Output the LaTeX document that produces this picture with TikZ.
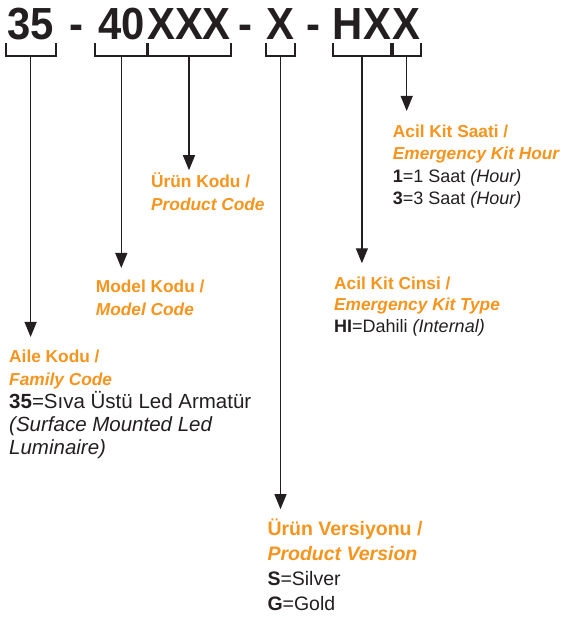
\documentclass[tikz,border=0pt]{standalone}
\usepackage{fontspec}
\setmainfont{Liberation Sans}
\newfontfamily\titlefont[FakeStretch=0.93]{Liberation Sans}
\usetikzlibrary{arrows.meta,calc}
\definecolor{ink}{HTML}{231F20}
\definecolor{orng}{HTML}{F7941D}
\newcommand\orhead[1]{{\color{orng}\bfseries #1}}
\newcommand\orital[1]{{\color{orng}\bfseries\itshape #1}}
\newcommand\bodyA{\fontsize{20.5}{23}\selectfont}
\newcommand\bodyB{\fontsize{18}{22}\selectfont}
\newcommand\bodyC{\fontsize{19.5}{25.3}\selectfont}

\begin{document}
\begin{tikzpicture}[x=1pt,y=-1pt,every node/.style={inner sep=0pt,text=ink},
    code/.style={anchor=base,font=\titlefont\bfseries\fontsize{45}{45}\selectfont},
    note/.style={anchor=base west,align=left},
    brk/.style={line width=2pt,draw=ink},
    arr/.style={line width=1.3pt,draw=ink,-{Triangle[width=12pt,length=15pt]}}]
    \useasboundingbox (0,0) rectangle (561,624);
	% code line
	\node[code,minimum width=49.8pt](c35)at(30.6,39.4){35};
	\node[code](d1)at(76,39.4){-};
	\node[code,minimum width=53pt](c40)at(121.3,39.4){40};
	\node[code,minimum width=81.3pt](cx)at(189,39.4){XXX};
	\node[code](d2)at(245.5,39.4){-};
	\node[code,minimum width=25.8pt](cv)at(280.5,39.4){X};
	\node[code](d3)at(313.6,39.4){-};
	\node[code,minimum width=54.8pt](chx)at(361.9,39.4){HX};
	\node[code,minimum width=27.9pt](ch)at(406.7,39.4){X};
	\foreach \c/\i in{c35/1,c40/2,cx/3,cv/4,chx/5,ch/6}
	{\draw[brk]([yshift=-3.6pt]\c.base west)--([yshift=-17pt]\c.base west)
		--([yshift=-17pt]\c.base east)--([yshift=-3.6pt]\c.base east);
	\coordinate(b\i)at([yshift=-17pt]\c.base);
	}
	% labels (placed at the baseline of their last line)
	\node[note,font=\fontsize{17.3}{23}\selectfont](aile)at(9,454.7){\orhead{Aile Kodu /}\\\orital{Family Code}\\
		{\bodyA\textbf{35}=Sıva Üstü Led Armatür}\\{\bodyA\itshape(Surface Mounted Led}\\{\bodyA\itshape Luminaire)}};
	\node[note,font=\fontsize{17.3}{23}\selectfont](model)at(95.7,315.7){\orhead{Model Kodu /}\\\orital{Model Code}};
	\node[note,font=\fontsize{17.3}{23}\selectfont](urun)at(151,210.7){\orhead{Ürün Kodu /}\\\orital{Product Code}};
	\node[note,font=\fontsize{19.5}{25.3}\selectfont](vers)at(267.3,610.9){\orhead{Ürün Versiyonu /}\\\orital{Product Version}\\
		{\bodyC\textbf{S}=Silver}\\{\bodyC\textbf{G}=Gold}};
	\node[note,font=\fontsize{17.3}{21.5}\selectfont](cinsi)at(334,332){\orhead{Acil Kit Cinsi /}\\\orital{Emergency Kit Type}\\
		{\bodyB\textbf{HI}=Dahili \textit{(Internal)}}};
	\node[note,font=\fontsize{17.3}{22.2}\selectfont](saat)at(392.7,204.3){\orhead{Acil Kit Saati /}\\\orital{Emergency Kit Hour}\\
		{\bodyB\textbf{1}=1 Saat \textit{(Hour)}}\\{\bodyB\textbf{3}=3 Saat \textit{(Hour)}}};
	% arrows
	\foreach \i/\n/\d in{1/aile/13,2/model/12,3/urun/2.5,4/vers/9,5/cinsi/13,6/saat/14}
	\draw[arr](b\i)--($(b\i |- \n.north)+(0,-\d)$);
\end{tikzpicture}
\end{document}
